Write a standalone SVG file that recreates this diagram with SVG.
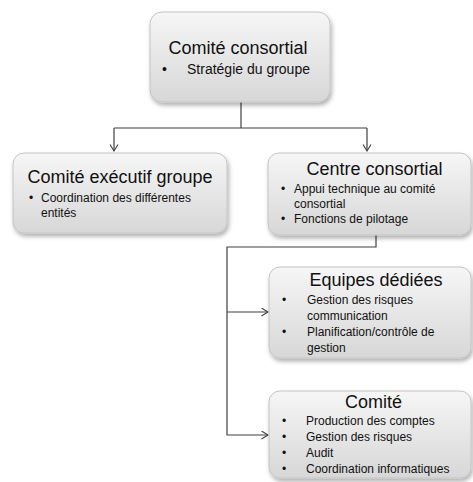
<svg xmlns="http://www.w3.org/2000/svg" width="473" height="482" viewBox="0 0 473 482">
<defs>
<linearGradient id="g" x1="0" y1="0" x2="0" y2="1">
<stop offset="0" stop-color="#f6f6f6"/>
<stop offset="1" stop-color="#d7d7d7"/>
</linearGradient>
<filter id="sh" x="-10%" y="-10%" width="130%" height="140%">
<feDropShadow dx="1.5" dy="3" stdDeviation="2" flood-color="#000" flood-opacity="0.3"/>
</filter>
<marker id="ar" markerWidth="10" markerHeight="10" refX="7" refY="4.5" orient="auto" markerUnits="userSpaceOnUse">
<path d="M0.5,0.5 L7,4.5 L0.5,8.5" fill="none" stroke="#404040" stroke-width="1.1"/>
</marker>
</defs>
<style>
.box{fill:url(#g);stroke:#c4c4c4;stroke-width:1;filter:url(#sh)}
.t{font-family:"Liberation Sans",Arial,sans-serif;font-size:18px;fill:#111;text-anchor:middle}
.b{font-family:"Liberation Sans",Arial,sans-serif;font-size:12px;fill:#111}
.b14{font-family:"Liberation Sans",Arial,sans-serif;font-size:14px;fill:#111}
.c{fill:none;stroke:#404040;stroke-width:1.2}
</style>
<rect width="473" height="482" fill="#fff"/>
<g id="connectors">
<path class="c" d="M241,102 V128"/>
<path class="c" d="M114,128 H367"/>
<path class="c" d="M114,128 V151" marker-end="url(#ar)"/>
<path class="c" d="M367,128 V151" marker-end="url(#ar)"/>
<path class="c" d="M376,235 V247 H227 V435 H268" marker-end="url(#ar)"/>
<path class="c" d="M227,312 H268" marker-end="url(#ar)"/>
</g>
<g id="comite-consortial">
<rect class="box" x="150" y="12" width="180" height="90" rx="12"/>
<text class="t" x="238" y="54">Comité consortial</text>
<text class="b14" x="162" y="74">•</text>
<text class="b14" x="187" y="74">Stratégie du groupe</text>
</g>
<g id="comite-executif">
<rect class="box" x="13" y="153" width="214" height="80" rx="11"/>
<text class="t" x="120" y="183">Comité exécutif groupe</text>
<text class="b" x="29" y="202">•</text>
<text class="b" x="41" y="202">Coordination des différentes</text>
<text class="b" x="41" y="217">entités</text>
</g>
<g id="centre-consortial">
<rect class="box" x="268" y="153" width="203" height="82" rx="11"/>
<text class="t" x="374.5" y="175">Centre consortial</text>
<text class="b" x="281" y="193">•</text>
<text class="b" x="294" y="193">Appui technique au comité</text>
<text class="b" x="294" y="208">consortial</text>
<text class="b" x="281" y="223">•</text>
<text class="b" x="294" y="223">Fonctions de pilotage</text>
</g>
<g id="equipes-dediees">
<rect class="box" x="269" y="267" width="202" height="91" rx="11"/>
<text class="t" x="376" y="286">Equipes dédiées</text>
<text class="b" x="282" y="304">•</text>
<text class="b" x="307" y="304">Gestion des risques</text>
<text class="b" x="307" y="320">communication</text>
<text class="b" x="282" y="336">•</text>
<text class="b" x="307" y="336">Planification/contrôle de</text>
<text class="b" x="307" y="352">gestion</text>
</g>
<g id="comite">
<rect class="box" x="269" y="391" width="202" height="87" rx="11"/>
<text class="t" x="373.5" y="408">Comité</text>
<text class="b" x="282" y="425">•</text>
<text class="b" x="306" y="425">Production des comptes</text>
<text class="b" x="282" y="441">•</text>
<text class="b" x="306" y="441">Gestion des risques</text>
<text class="b" x="282" y="457">•</text>
<text class="b" x="306" y="457">Audit</text>
<text class="b" x="282" y="473">•</text>
<text class="b" x="306" y="473">Coordination informatiques</text>
</g>
</svg>
